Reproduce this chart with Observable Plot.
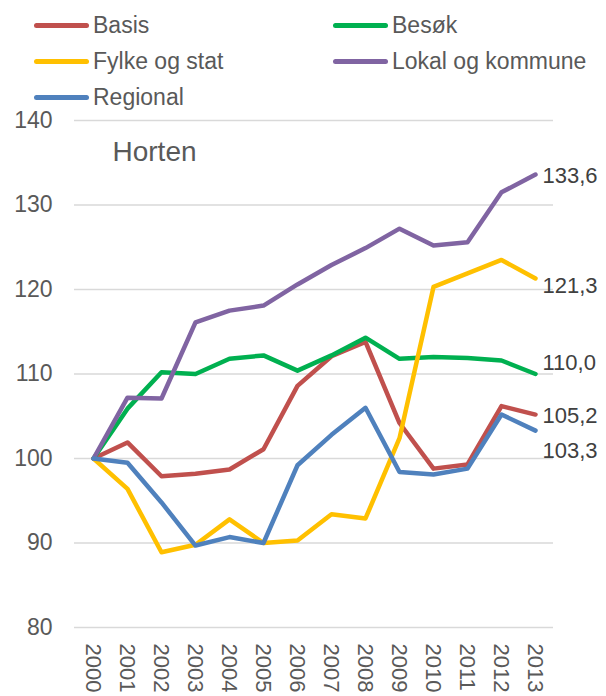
<!DOCTYPE html>
<html><head><meta charset="utf-8">
<script src="https://cdn.jsdelivr.net/npm/d3@7"></script>
<script src="https://cdn.jsdelivr.net/npm/@observablehq/plot@0.6"></script>
<style>
body{margin:0;background:#fff;font-family:"Liberation Sans",Arial,sans-serif;}
#wrap{width:606px;height:696px;position:relative;overflow:hidden;}
#legend{position:relative;width:606px;height:108px;}
.item{position:absolute;height:30px;display:flex;align-items:center;font-size:23px;color:#595959;white-space:nowrap;}
.sw{width:55px;height:5px;border-radius:3px;margin-right:4px;}
</style></head>
<body><div id="wrap"><div id="legend"></div><div id="chart"></div></div>
<script>
const years = ["2000","2001","2002","2003","2004","2005","2006","2007","2008","2009","2010","2011","2012","2013"];
const basis    = [100, 101.9, 97.9, 98.2, 98.7, 101.1, 108.6, 112.1, 113.8, 104.2, 98.8, 99.3, 106.2, 105.2];
const besok    = [100, 105.9, 110.2, 110.0, 111.8, 112.2, 110.4, 112.2, 114.3, 111.8, 112.0, 111.9, 111.6, 110.0];
const fylke    = [100, 96.4, 88.9, 89.8, 92.8, 90.0, 90.3, 93.4, 92.9, 102.4, 120.3, 121.9, 123.5, 121.3];
const lokal    = [100, 107.2, 107.1, 116.1, 117.5, 118.1, 120.6, 122.9, 124.9, 127.2, 125.2, 125.6, 131.5, 133.6];
const regional = [100, 99.5, 94.8, 89.7, 90.7, 90.0, 99.2, 102.8, 106.0, 98.4, 98.1, 98.8, 105.2, 103.3];
const seriesNames = ["Basis", "Besøk", "Fylke og stat", "Lokal og kommune", "Regional"];
const seriesValues = [basis, besok, fylke, lokal, regional];
const seriesColors = ["#C0504D", "#00B050", "#FFC000", "#8064A2", "#4F81BD"];
const yTicks = [80, 90, 100, 110, 120, 130, 140];
const titleText = "Horten";

// label nudges (px) so end labels don't collide
const labelNudge = {"Basis": 1, "Besøk": -11, "Fylke og stat": 7, "Lokal og kommune": 1, "Regional": 20};

// legend
const legendPos = [[34, 25], [333, 25], [34, 61.7], [333, 61.7], [34, 97.7]];
const legend = document.getElementById("legend");
seriesNames.forEach((name, i) => {
  const it = document.createElement("div");
  it.className = "item";
  it.style.left = legendPos[i][0] + "px";
  it.style.top = (legendPos[i][1] - 15) + "px";
  it.innerHTML = `<span class="sw" style="background:${seriesColors[i]}"></span><span>${name}</span>`;
  legend.appendChild(it);
});

const rows = [];
seriesNames.forEach((s, i) => years.forEach((y, j) => rows.push({series: s, year: y, value: seriesValues[i][j]})));
const endRows = seriesNames.map((s, i) => ({series: s, year: years[years.length - 1], value: seriesValues[i][years.length - 1]}));
const fmt = v => v.toFixed(1).replace(".", ",");

const chart = Plot.plot({
  width: 606, height: 588,
  marginTop: 12, marginBottom: 69, marginLeft: 74, marginRight: 53,
  style: {fontFamily: "'Liberation Sans', Arial, sans-serif", color: "#595959", background: "white", overflow: "visible"},
  x: {type: "point", domain: years, padding: 0.5, label: null},
  y: {domain: [80, 140], label: null},
  color: {domain: seriesNames, range: seriesColors},
  marks: [
    Plot.gridY(yTicks, {stroke: "#d9d9d9", strokeOpacity: 1, strokeWidth: 1.5}),
    Plot.axisY(yTicks, {tickSize: 0, tickPadding: 22, fontSize: 23, fill: "#595959", label: null}),
    Plot.axisX(years, {tickSize: 0, tickPadding: 16, tickRotate: 90, fontSize: 22, fill: "#595959", label: null}),
    Plot.line(rows, {x: "year", y: "value", z: "series", stroke: "series", strokeWidth: 4.5, strokeLinecap: "round", strokeLinejoin: "round"}),
    ...endRows.map(r => Plot.text([r], {x: "year", y: "value", text: d => fmt(d.value), dx: 7, dy: labelNudge[r.series], textAnchor: "start", fontSize: 22, fill: "#404040"})),
    Plot.text([titleText], {frameAnchor: "top-left", dx: 38, dy: 32, textAnchor: "start", lineAnchor: "middle", fontSize: 28, fill: "#595959"})
  ]
});
document.getElementById("chart").appendChild(chart);
</script>
</body></html>
